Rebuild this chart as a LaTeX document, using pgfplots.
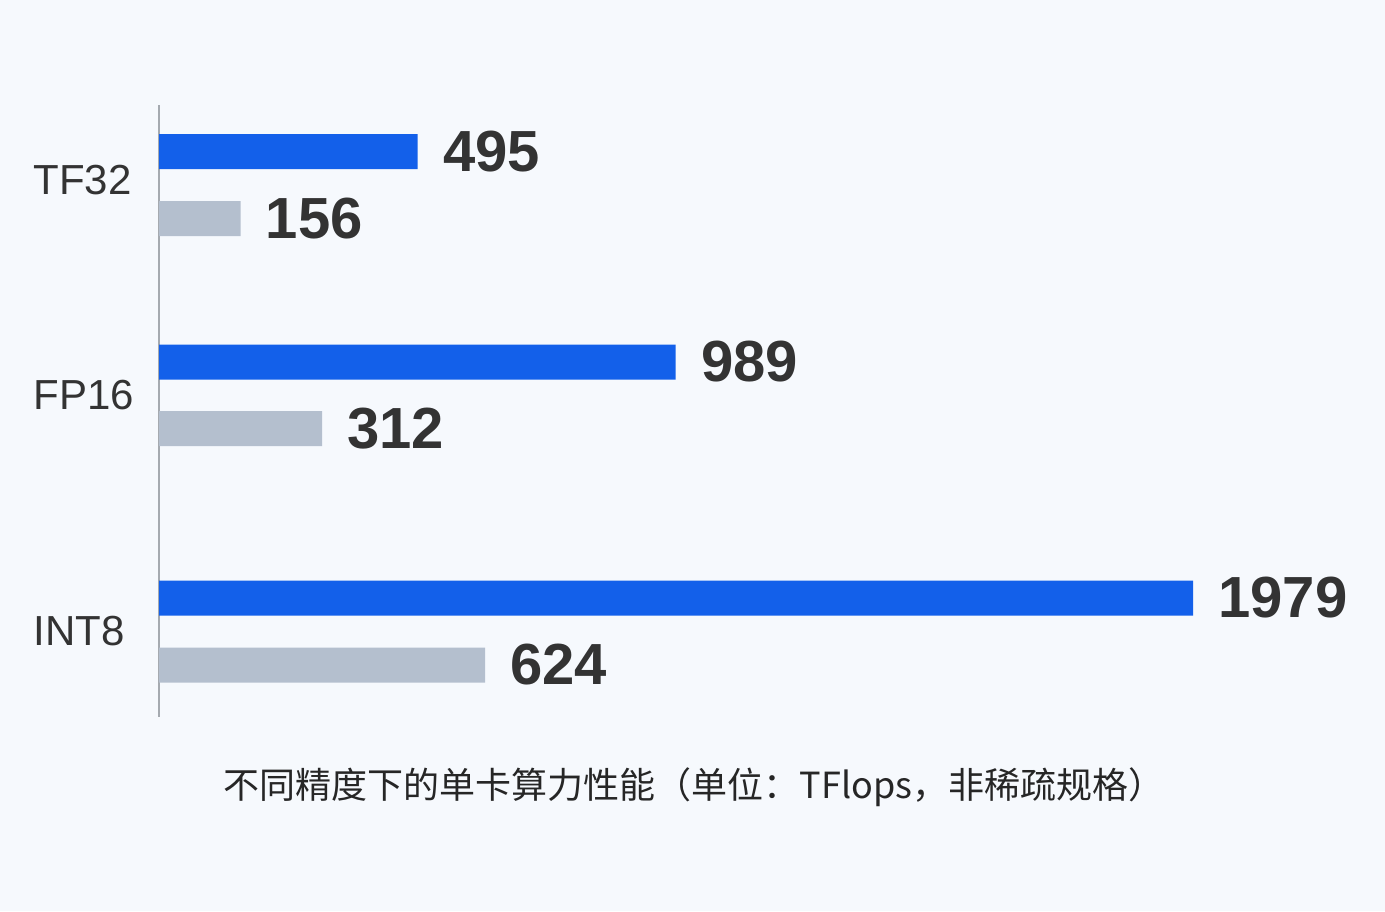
\documentclass[border=0pt]{standalone}
\usepackage{pgfplots}
\pgfplotsset{compat=1.18}
\usepackage{fontspec}
\setmainfont{Liberation Sans}
\newfontfamily\cjk{Noto Sans CJK SC}
\definecolor{bgc}{RGB}{246,249,253}
\definecolor{barblue}{RGB}{19,96,234}
\definecolor{bargray}{RGB}{180,191,206}
\definecolor{txt}{RGB}{51,51,51}
\definecolor{axisgray}{RGB}{165,170,176}

\begin{document}
\begin{tikzpicture}
  % background, 1385 x 911 px at 0.5pt per px
  \fill[bgc] (0pt,0pt) rectangle (692.5pt,455.5pt);
  \begin{axis}[
    at={(79.5pt,97pt)}, anchor=south west,
    scale only axis, width=517pt, height=306pt,
    xmin=0, xmax=1979, ymin=105, ymax=717, y dir=reverse,
    axis x line=none, axis y line=left,
    axis line style={-, draw=axisgray, line width=0.75pt},
    xtick=\empty,
    ytick={180,395,631}, yticklabels={TF32,FP16,INT8},
    major tick length=0pt,
    yticklabel style={anchor=west, inner sep=0pt, xshift=-63pt,
      font=\fontsize{21}{23}\selectfont, text=txt},
    /pgf/number format/assume math mode=true,
    /pgf/number format/1000 sep={},
    clip=false,
    every node near coord/.append style={anchor=west, inner sep=0pt,
      xshift=12.5pt, font=\fontsize{29}{31}\selectfont\bfseries, text=txt},
  ]
    \addplot[xbar, bar width=35, bar shift=0pt, fill=barblue, draw=none,
      nodes near coords] coordinates {(495,151.5) (989,362) (1979,598)};
    \addplot[xbar, bar width=35, bar shift=0pt, fill=bargray, draw=none,
      nodes near coords] coordinates {(156,218.5) (312,428.5) (624,665)};
  \end{axis}
  \node[font=\cjk\fontsize{18}{20}\selectfont, text=black!85] at (347pt,62pt)
    {不同精度下的单卡算力性能（单位：TFlops，非稀疏规格）};
\end{tikzpicture}
\end{document}
